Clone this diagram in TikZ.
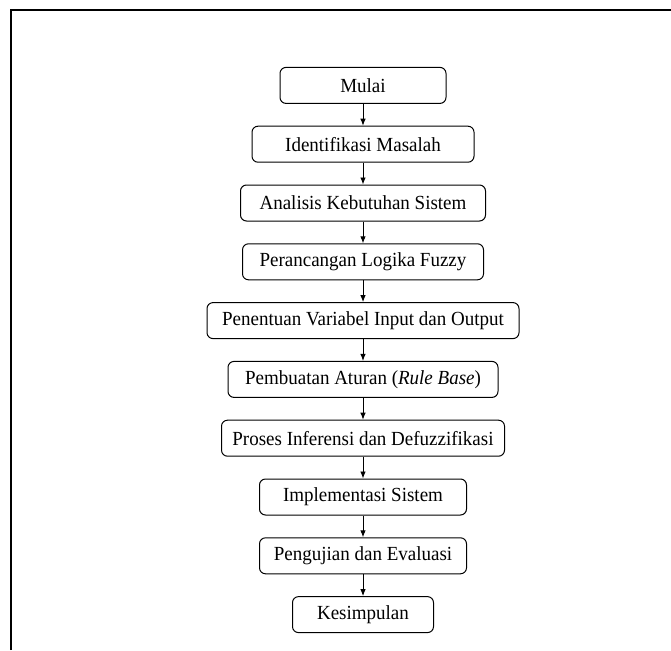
\documentclass[tikz,border=0pt]{standalone}
\usepackage{fontspec}
\setmainfont{Liberation Serif}[FakeStretch=0.95]
\usepackage{tikz}
\usetikzlibrary{arrows.meta}

\begin{document}
\begin{tikzpicture}[
   x=1pt,y=1pt,
   font=\fontsize{20}{23}\selectfont,
   every matrix/.style={ampersand replacement=\&,row sep=21.8pt},
   state/.style={draw,line width=1pt,rounded corners=6pt,minimum height=36pt,inner sep=0pt},
   to/.style={-{Latex[length=7pt,width=5.5pt]},line width=0.9pt},
   frame/.style={line width=2pt}]
\useasboundingbox (0,0) rectangle (671,-650);
\draw[frame] (11,-650) -- (11,-10) -- (671,-10);
\matrix at (363,-350) {
\node[state,minimum width=166pt] (S1) {Mulai};\\
\node[state,minimum width=222pt] (S2) {Identifikasi Masalah};\\
\node[state,minimum width=245pt] (S3) {Analisis Kebutuhan Sistem};\\
\node[state,minimum width=241pt] (S4) {Perancangan Logika Fuzzy};\\
\node[state,minimum width=312pt] (S5) {Penentuan Variabel Input dan Output};\\
\node[state,minimum width=270pt] (S6) {Pembuatan Aturan (\textit{Rule Base})};\\
\node[state,minimum width=283pt] (S7) {Proses Inferensi dan Defuzzifikasi};\\
\node[state,minimum width=207pt] (S8) {Implementasi Sistem};\\
\node[state,minimum width=207pt] (S9) {Pengujian dan Evaluasi};\\
\node[state,minimum width=141pt] (S10) {Kesimpulan};\\
};
\draw[to] (S1) -- (S2);
\draw[to] (S2) -- (S3);
\draw[to] (S3) -- (S4);
\draw[to] (S4) -- (S5);
\draw[to] (S5) -- (S6);
\draw[to] (S6) -- (S7);
\draw[to] (S7) -- (S8);
\draw[to] (S8) -- (S9);
\draw[to] (S9) -- (S10);
\end{tikzpicture}
\end{document}
